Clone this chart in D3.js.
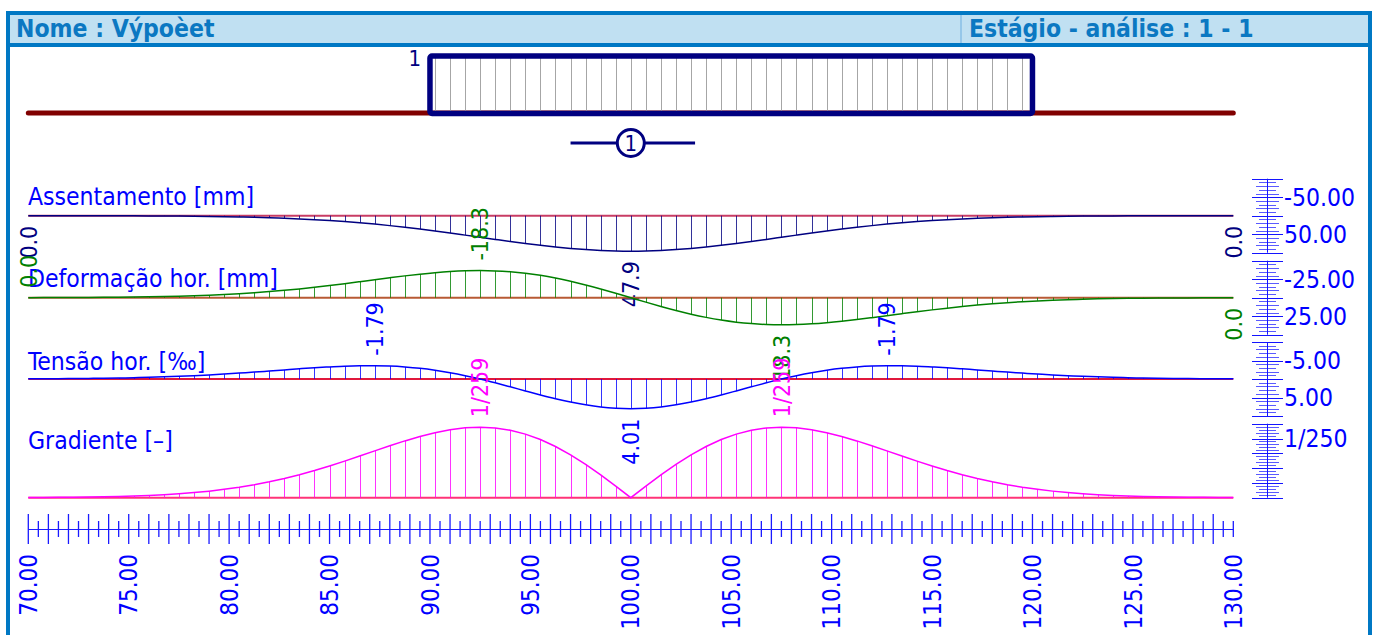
<!DOCTYPE html>
<html lang="pt">
<head>
<meta charset="UTF-8">
<title>Nome : Výpoèet</title>
<script src="https://d3js.org/d3.v7.min.js"></script>
<style>
  body { margin: 0; background: #fff; }
  svg { display: block; font-family: "DejaVu Sans Condensed", "DejaVu Sans", sans-serif; }
</style>
</head>
<body>
<svg id="chart" width="1379" height="635"></svg>
<script>
// stations along the profile [m]
const stations = [70,70.75,71.5,72.25,73,73.75,74.5,75.25,76,76.75,77.5,78.25,79,79.75,80.5,81.25,82,82.75,83.5,84.25,
  85,85.75,86.5,87.25,88,88.75,89.5,90.25,91,91.75,92.5,93.25,94,94.75,95.5,96.25,97,97.75,98.5,99.25,
  100,100.75,101.5,102.25,103,103.75,104.5,105.25,106,106.75,107.5,108.25,109,109.75,110.5,111.25,112,112.75,113.5,114.25,
  115,115.75,116.5,117.25,118,118.75,119.5,120.25,121,121.75,122.5,123.25,124,124.75,125.5,126.25,127,127.75,128.5,129.25,130];

// Assentamento [mm]
const settlement = [0.02,0.02,0.04,0.05,0.08,0.11,0.15,0.21,0.29,0.40,0.55,0.73,0.97,1.28,1.66,2.14,2.73,3.45,4.31,5.34,
  6.55,7.95,9.56,11.38,13.41,15.64,18.07,20.67,23.40,26.24,29.13,32.02,34.84,37.54,40.05,42.30,44.24,45.80,46.96,47.66,
  47.90,
  47.66,46.96,45.80,44.24,42.30,40.05,37.54,34.84,32.02,29.13,26.24,23.40,20.67,18.07,15.64,13.41,11.38,9.56,7.95,
  6.55,5.34,4.31,3.45,2.73,2.14,1.66,1.28,0.97,0.73,0.55,0.40,0.29,0.21,0.15,0.11,0.08,0.05,0.04,0.02,0.02];

// Deformação hor. [mm]
const horizontal = [-0.04,-0.06,-0.09,-0.12,-0.17,-0.24,-0.33,-0.44,-0.59,-0.78,-1.03,-1.33,-1.71,-2.16,-2.71,-3.36,-4.12,-4.99,-5.96,-7.05,
  -8.23,-9.50,-10.82,-12.16,-13.48,-14.75,-15.90,-16.88,-17.65,-18.14,-18.30,-18.11,-17.51,-16.51,-15.10,-13.29,-11.12,-8.63,-5.90,-3.00,
  0,
  3.00,5.90,8.63,11.12,13.29,15.10,16.51,17.51,18.11,18.30,18.14,17.65,16.88,15.90,14.75,13.48,12.16,10.82,9.50,
  8.23,7.05,5.96,4.99,4.12,3.36,2.71,2.16,1.71,1.33,1.03,0.78,0.59,0.44,0.33,0.24,0.17,0.12,0.09,0.06,0.04];

// Tensão hor. [‰]
const strain = [-0.02,-0.03,-0.04,-0.06,-0.08,-0.10,-0.13,-0.18,-0.23,-0.29,-0.36,-0.45,-0.55,-0.67,-0.80,-0.93,-1.08,-1.23,-1.38,-1.52,
  -1.63,-1.73,-1.78,-1.79,-1.74,-1.62,-1.44,-1.18,-0.85,-0.45,0.01,0.52,1.06,1.61,2.15,2.66,3.11,3.49,3.78,3.95,
  4.01,
  3.95,3.78,3.49,3.11,2.66,2.15,1.61,1.06,0.52,0.01,-0.45,-0.85,-1.18,-1.44,-1.62,-1.74,-1.79,-1.78,-1.73,
  -1.63,-1.52,-1.38,-1.23,-1.08,-0.93,-0.80,-0.67,-0.55,-0.45,-0.36,-0.29,-0.23,-0.18,-0.13,-0.10,-0.08,-0.06,-0.04,-0.03,-0.02];

// Gradiente [‰]
const gradient = [0.009,0.013,0.018,0.026,0.036,0.050,0.069,0.093,0.125,0.165,0.217,0.281,0.360,0.457,0.572,0.709,0.869,1.052,1.259,1.488,
  1.738,2.004,2.283,2.566,2.845,3.112,3.355,3.564,3.725,3.828,3.863,3.822,3.697,3.485,3.187,2.805,2.347,1.822,1.246,0.632,
  0,
  0.632,1.246,1.822,2.347,2.805,3.187,3.485,3.697,3.822,3.863,3.828,3.725,3.564,3.355,3.112,2.845,2.566,2.283,2.004,
  1.738,1.488,1.259,1.052,0.869,0.709,0.572,0.457,0.360,0.281,0.217,0.165,0.125,0.093,0.069,0.050,0.036,0.026,0.018,0.013,0.009];

// where the values are printed
const settlementLabelAt = [70, 100, 130];
const horizontalLabelAt = [70, 92.5, 107.5, 130];
const strainLabelAt = [87.25, 100, 112.75];
const gradientLabelAt = [92.5, 107.5];

// right hand scale labels
const settlementScaleLabels = [-50, 50];
const horizontalScaleLabels = [-25, 25];
const strainScaleLabels = [-5, 5];
const gradientScaleLabels = [4];

// bottom axis
const axisLabels = [70, 75, 80, 85, 90, 95, 100, 105, 110, 115, 120, 125, 130];

// foundation
const foundation = [90, 120];

const svg = d3.select("#chart");
const x = d3.scaleLinear().domain([70, 130]).range([28.3, 1233.3]);
const px = v => Math.round(x(v)) + 0.5; // crisp 1px lines

const frameBlue = "#0078c4";
svg.append("rect").attr("x", 0).attr("y", 0).attr("width", 1379).attr("height", 635).attr("fill", "#fff");

// header band
svg.append("rect").attr("x", 8).attr("y", 13).attr("width", 1362).attr("height", 32).attr("fill", "#c0e0f2");
svg.append("line").attr("x1", 961).attr("x2", 961).attr("y1", 15).attr("y2", 44)
  .attr("stroke", "#88bfe6").attr("stroke-width", 1.5);
[[6, 13, 1372, 13], [8, 45, 1370, 45], [8, 11, 8, 635], [1370, 11, 1370, 635]].forEach(l => {
  svg.append("line").attr("x1", l[0]).attr("y1", l[1]).attr("x2", l[2]).attr("y2", l[3])
    .attr("stroke", frameBlue).attr("stroke-width", 4);
});
svg.append("text").attr("x", 16).attr("y", 37).attr("font-size", 24.5).attr("font-weight", "bold")
  .attr("fill", "#0b78c2").text("Nome : Výpoèet");
svg.append("text").attr("x", 969).attr("y", 37).attr("font-size", 24.5).attr("font-weight", "bold")
  .attr("fill", "#0b78c2").text("Estágio - análise : 1 - 1");

// top sketch: terrain + foundation
svg.append("line").attr("x1", x(70)).attr("x2", x(130)).attr("y1", 113).attr("y2", 113)
  .attr("stroke", "#800000").attr("stroke-width", 5).attr("stroke-linecap", "round");
svg.append("g").selectAll("line")
  .data(stations.filter(s => s > foundation[0] && s < foundation[1]))
  .join("line")
  .attr("x1", d => px(d)).attr("x2", d => px(d)).attr("y1", 58).attr("y2", 111)
  .attr("stroke", "#a6a6a6").attr("stroke-width", 1);
svg.append("rect").attr("x", x(foundation[0])).attr("y", 56)
  .attr("width", x(foundation[1]) - x(foundation[0])).attr("height", 57.5)
  .attr("rx", 2).attr("fill", "none").attr("stroke", "#000080").attr("stroke-width", 5.5);
svg.append("text").attr("x", 421).attr("y", 66).attr("text-anchor", "end").attr("font-size", 22)
  .attr("fill", "#000080").text("1");
svg.append("line").attr("x1", x(97)).attr("x2", x(103.2)).attr("y1", 143).attr("y2", 143)
  .attr("stroke", "#000080").attr("stroke-width", 3);
svg.append("circle").attr("cx", x(100)).attr("cy", 143).attr("r", 13.5)
  .attr("fill", "#fff").attr("stroke", "#000080").attr("stroke-width", 3);
svg.append("text").attr("x", x(100)).attr("y", 143).attr("dy", "0.36em").attr("text-anchor", "middle")
  .attr("font-size", 22).attr("fill", "#000080").text("1");

// result diagrams
const fmt1 = v => { const s = v.toFixed(1); return s === "-0.0" ? "0.0" : s; };
const charts = [
  { title: "Assentamento [mm]", titleY: 205, values: settlement, base: 215.7, domain: [-50, 50],
    color: "#000080", baseColor: "#c83c64", labelColor: "#000080", labelAt: settlementLabelAt, fmt: fmt1,
    ruler: [-100, 100], rulerLabels: settlementScaleLabels, rulerFmt: v => v.toFixed(2), curve: d3.curveMonotoneX },
  { title: "Deformação hor. [mm]", titleY: 287, values: horizontal, base: 297.7, domain: [-25, 25],
    color: "#008000", baseColor: "#b85a34", labelColor: "#008000", labelAt: horizontalLabelAt, fmt: fmt1,
    ruler: [-50, 50], rulerLabels: horizontalScaleLabels, rulerFmt: v => v.toFixed(2), curve: d3.curveMonotoneX },
  { title: "Tensão hor. [‰]", titleY: 369.5, values: strain, base: 379, domain: [-5, 5],
    color: "#0000ff", baseColor: "#e0183c", labelColor: "#0000ff", labelAt: strainLabelAt, fmt: v => v.toFixed(2),
    ruler: [-10, 10], rulerLabels: strainScaleLabels, rulerFmt: v => v.toFixed(2), curve: d3.curveMonotoneX },
  { title: "Gradiente [–]", titleY: 449, values: gradient, base: 497.7, domain: [0, 4], up: true,
    color: "#ff00ff", baseColor: "#ff3478", labelColor: "#ff00ff", labelAt: gradientLabelAt,
    fmt: v => "1/" + Math.round(1000 / v),
    ruler: [0, 5], rulerLabels: gradientScaleLabels, rulerFmt: v => "1/" + Math.round(1000 / v), curve: d3.curveLinear }
];

charts.forEach(c => {
  const y = d3.scaleLinear().domain(c.domain)
    .range(c.up ? [c.base, c.base - 73] : [c.base - 37, c.base + 37]);
  const pts = stations.map((s, i) => ({ s, v: c.values[i] }));
  const g = svg.append("g");

  g.append("text").attr("x", 28).attr("y", c.titleY).attr("font-size", 24.5)
    .attr("fill", "#0000ff").text(c.title);

  g.append("line").attr("x1", x(70)).attr("x2", x(130)).attr("y1", c.base).attr("y2", c.base)
    .attr("stroke", c.baseColor).attr("stroke-width", 2);

  g.append("g").selectAll("line").data(pts).join("line")
    .attr("x1", d => px(d.s)).attr("x2", d => px(d.s))
    .attr("y1", c.base).attr("y2", d => y(d.v))
    .attr("stroke", c.color).attr("stroke-opacity", 0.8).attr("stroke-width", 1);

  g.append("path").datum(pts)
    .attr("d", d3.line().x(d => x(d.s)).y(d => y(d.v)).curve(c.curve))
    .attr("fill", "none").attr("stroke", c.color).attr("stroke-width", 1.5);

  // value labels, rotated
  g.append("g").selectAll("text")
    .data(pts.filter(d => c.labelAt.includes(d.s)))
    .join("text")
    .attr("transform", d => {
      const py = y(d.v);
      const below = !c.up && d.v >= 0;
      return `translate(${x(d.s)},${below ? py + 10 : py - 10}) rotate(-90)`;
    })
    .attr("text-anchor", d => (!c.up && d.v >= 0) ? "end" : "start")
    .attr("dy", "0.36em").attr("font-size", 23).attr("fill", c.labelColor)
    .text(d => c.fmt(d.v));

  // right hand ruler
  const r = d3.scaleLinear().domain(c.ruler)
    .range(c.up ? [c.base, c.base - 74] : [c.base - 37, c.base + 37]);
  const rt = r.ticks(20);
  const rg = g.append("g").attr("stroke", "#1414ff").attr("stroke-width", 1);
  rg.append("line").attr("x1", 1267.5).attr("x2", 1267.5).attr("y1", r.range()[0]).attr("y2", r.range()[1]);
  rg.selectAll("line.tk").data(rt).join("line").attr("class", "tk")
    .attr("x1", (d, i) => i % 5 === 0 ? 1252 : (i % 2 === 0 ? 1256 : 1259))
    .attr("x2", (d, i) => i % 5 === 0 ? 1283 : (i % 2 === 0 ? 1279 : 1276))
    .attr("y1", d => Math.round(r(d)) + 0.5).attr("y2", d => Math.round(r(d)) + 0.5)
    .attr("stroke-opacity", (d, i) => i % 5 === 0 ? 1 : 0.7);
  g.append("g").selectAll("text").data(c.rulerLabels).join("text")
    .attr("x", 1284).attr("y", d => r(d)).attr("dy", "0.36em")
    .attr("font-size", 24.5).attr("fill", "#0000ff").text(d => c.rulerFmt(d));
});

// bottom axis
const ax = svg.append("g").attr("stroke", "#1a1aff").attr("stroke-width", 1.3);
ax.append("line").attr("x1", x(70)).attr("x2", x(130)).attr("y1", 529.5).attr("y2", 529.5)
  .attr("stroke-width", 1);
ax.selectAll("line.tk").data(d3.range(70, 130.001, 0.5)).join("line").attr("class", "tk")
  .attr("x1", d => x(d)).attr("x2", d => x(d))
  .attr("y1", d => Number.isInteger(d) && d < 130 ? 514 : 521)
  .attr("y2", d => Number.isInteger(d) && d < 130 ? 544 : 537);
svg.append("g").selectAll("text").data(axisLabels).join("text")
  .attr("transform", d => `translate(${x(d)},554) rotate(-90)`)
  .attr("text-anchor", "end").attr("dy", "0.36em")
  .attr("font-size", 24).attr("fill", "#0000ff").text(d => d.toFixed(2));
</script>
</body>
</html>
